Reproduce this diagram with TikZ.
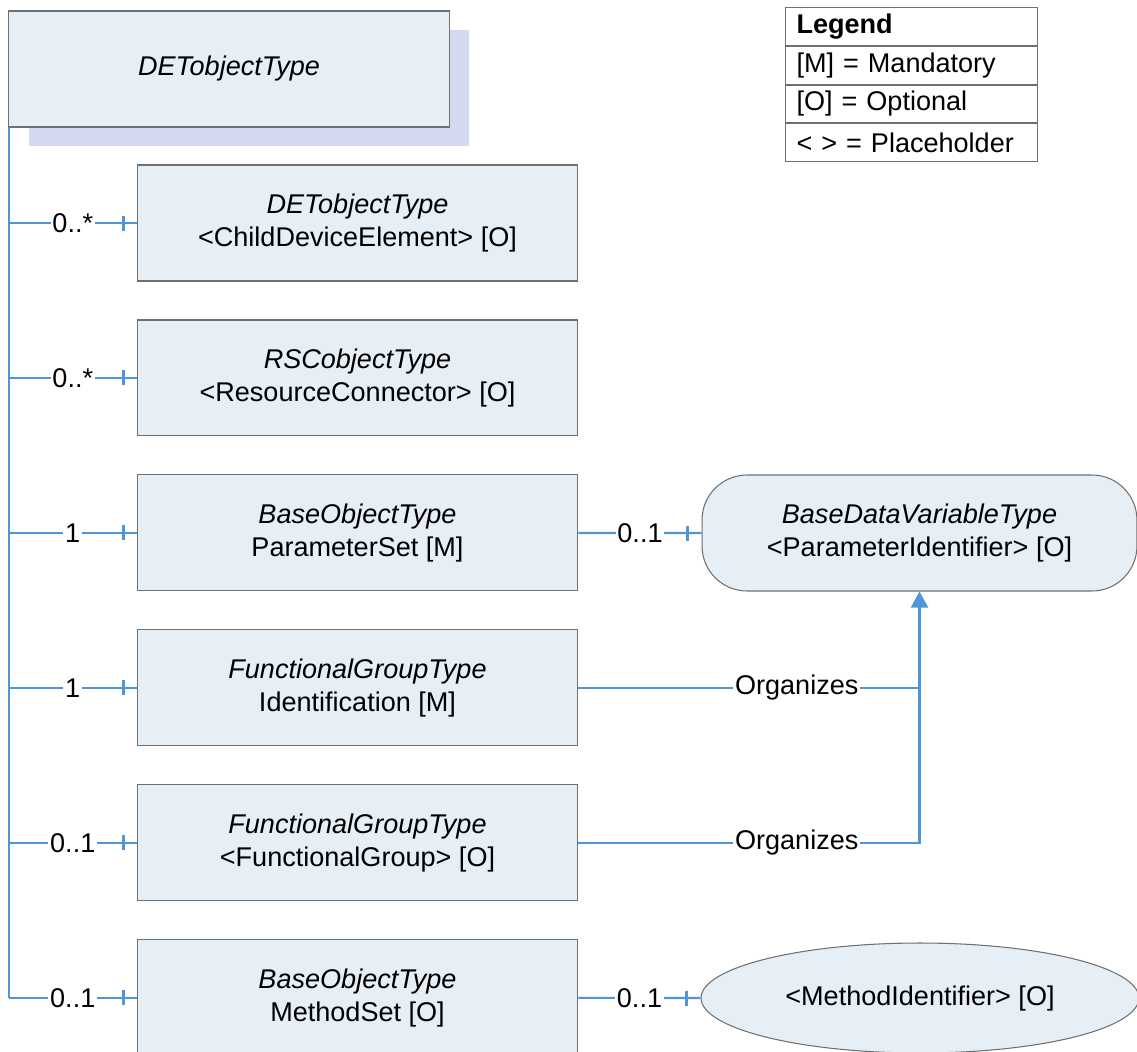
\documentclass[tikz,border=0pt]{standalone}
\usepackage{fontspec}
\setmainfont{Liberation Sans}
\usetikzlibrary{positioning,arrows.meta,shapes.geometric,shadows}

\definecolor{boxfill}{HTML}{E6EEF6}
\definecolor{boxshade}{HTML}{D3DAF0}
\definecolor{boxline}{HTML}{707070}
\definecolor{linkblue}{HTML}{4F96D8}

\tikzset{
	objbox/.style={draw=boxline, fill=boxfill, line width=0.6pt, minimum width=8.82cm, minimum height=2.32cm, align=center},
	link/.style={draw=linkblue, line width=1.2pt},
	mult/.style={fill=white, inner sep=1pt},
	legrow/.style={draw=boxline, line width=0.6pt, text width=4.6cm, inner xsep=0.22cm, minimum height=0.755cm, align=left}
}

\begin{document}
\begin{tikzpicture}[x=0.02cm,y=-0.02cm,font=\fontsize{15.4}{18.8}\selectfont]
	\clip (0,0) rectangle (1137,1052);

	\node[objbox, drop shadow={shadow xshift=0.4cm, shadow yshift=-0.38cm, fill=boxshade, opacity=1}] (det) at (229,69) {\textit{DETobjectType}};

	\node[objbox] (child) at (357.5,223) {\textit{DETobjectType}\\<ChildDeviceElement> [O]};
	\node[objbox, below=0.759cm of child] (rsc) {\textit{RSCobjectType}\\<ResourceConnector> [O]};
	\node[objbox, below=0.759cm of rsc] (pset) {\textit{BaseObjectType}\\ParameterSet [M]};
	\node[objbox, below=0.759cm of pset] (ident) {\textit{FunctionalGroupType}\\Identification [M]};
	\node[objbox, below=0.759cm of ident] (fgrp) {\textit{FunctionalGroupType}\\<FunctionalGroup> [O]};
	\node[objbox, below=0.759cm of fgrp] (mset) {\textit{BaseObjectType}\\MethodSet [O]};

	\node[draw=boxline, fill=boxfill, line width=0.6pt, rounded corners=0.9cm, minimum width=8.7cm, minimum height=2.32cm, align=center] (pid) at (919.5,533) {\textit{BaseDataVariableType}\\<ParameterIdentifier> [O]};
	\node[ellipse, draw=boxline, fill=boxfill, line width=0.6pt, inner sep=0pt, minimum width=8.76cm, minimum height=2.2cm] (mid) at (920,998) {<MethodIdentifier> [O]};

	% legend
	\node[legrow, anchor=north west] (leg1) at (785,7) {\textbf{Legend}};
	\node[legrow, below=0pt of leg1] (leg2) {[M] = Mandatory};
	\node[legrow, below=0pt of leg2] (leg3) {[O] = Optional};
	\node[legrow, below=0pt of leg3] (leg4) {< > = Placeholder};

	% trunk and multiplicities
	\draw[link] ([xshift=0.02cm]det.south west) -- ([xshift=0.02cm]det.south west |- mset.west);
	\draw[link] ([xshift=0.02cm]det.south west |- child.west) -- node[mult]{0..*} (child.west);
	\draw[link] ([xshift=0.02cm]det.south west |- rsc.west) -- node[mult]{0..*} (rsc.west);
	\draw[link] ([xshift=0.02cm]det.south west |- pset.west) -- node[mult]{1} (pset.west);
	\draw[link] ([xshift=0.02cm]det.south west |- ident.west) -- node[mult]{1} (ident.west);
	\draw[link] ([xshift=0.02cm]det.south west |- fgrp.west) -- node[mult]{0..1} (fgrp.west);
	\draw[link] ([xshift=0.02cm]det.south west |- mset.west) -- node[mult]{0..1} (mset.west);
	\draw[link] (pset.east) -- node[mult]{0..1} (pid.west);
	\draw[link] (mset.east) -- node[mult]{0..1} (mid.west);

	\draw[link] ([xshift=-0.26cm]child.west) ++(0,-7.5) -- ++(0,15);
	\draw[link] ([xshift=-0.26cm]rsc.west) ++(0,-7.5) -- ++(0,15);
	\draw[link] ([xshift=-0.26cm]pset.west) ++(0,-7.5) -- ++(0,15);
	\draw[link] ([xshift=-0.26cm]ident.west) ++(0,-7.5) -- ++(0,15);
	\draw[link] ([xshift=-0.26cm]fgrp.west) ++(0,-7.5) -- ++(0,15);
	\draw[link] ([xshift=-0.26cm]mset.west) ++(0,-7.5) -- ++(0,15);
	\draw[link] ([xshift=-0.28cm]pid.west) ++(0,-7.5) -- ++(0,15);
	\draw[link] ([xshift=-0.28cm]mid.west) ++(0,-7.5) -- ++(0,15);

	% organizes
	\draw[link] (ident.east) -- node[mult, pos=0.64]{Organizes} (ident.east -| pid.south);
	\draw[link, -{Triangle[width=0.34cm,length=0.32cm]}] (fgrp.east) -- node[mult, pos=0.64]{Organizes} (fgrp.east -| pid.south) -- (pid.south);
\end{tikzpicture}
\end{document}
